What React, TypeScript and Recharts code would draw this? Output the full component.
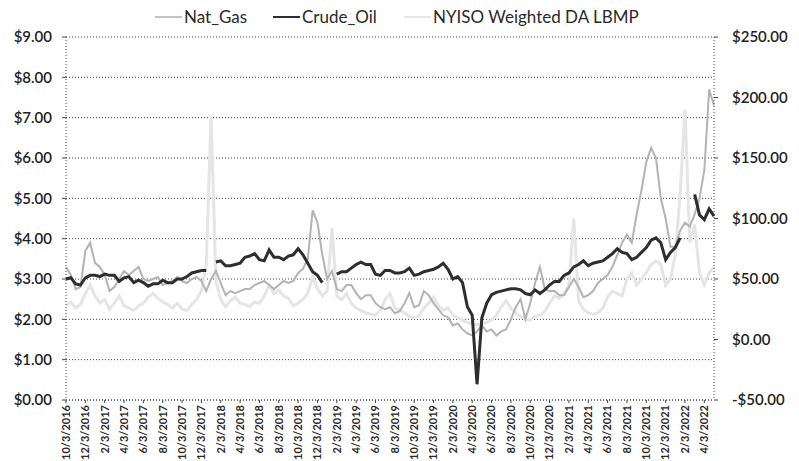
import { LineChart, Line, XAxis, YAxis, CartesianGrid, Legend } from "recharts"

// semi-monthly readings (3rd and 18th of each month)
const dates = [
  "10/3/2016", "10/18/2016", "11/3/2016", "11/18/2016", "12/3/2016", "12/18/2016",
  "1/3/2017", "1/18/2017", "2/3/2017", "2/18/2017", "3/3/2017", "3/18/2017",
  "4/3/2017", "4/18/2017", "5/3/2017", "5/18/2017", "6/3/2017", "6/18/2017",
  "7/3/2017", "7/18/2017", "8/3/2017", "8/18/2017", "9/3/2017", "9/18/2017",
  "10/3/2017", "10/18/2017", "11/3/2017", "11/18/2017", "12/3/2017", "12/18/2017",
  "1/3/2018", "1/18/2018", "2/3/2018", "2/18/2018", "3/3/2018", "3/18/2018",
  "4/3/2018", "4/18/2018", "5/3/2018", "5/18/2018", "6/3/2018", "6/18/2018",
  "7/3/2018", "7/18/2018", "8/3/2018", "8/18/2018", "9/3/2018", "9/18/2018",
  "10/3/2018", "10/18/2018", "11/3/2018", "11/18/2018", "12/3/2018", "12/18/2018",
  "1/3/2019", "1/18/2019", "2/3/2019", "2/18/2019", "3/3/2019", "3/18/2019",
  "4/3/2019", "4/18/2019", "5/3/2019", "5/18/2019", "6/3/2019", "6/18/2019",
  "7/3/2019", "7/18/2019", "8/3/2019", "8/18/2019", "9/3/2019", "9/18/2019",
  "10/3/2019", "10/18/2019", "11/3/2019", "11/18/2019", "12/3/2019", "12/18/2019",
  "1/3/2020", "1/18/2020", "2/3/2020", "2/18/2020", "3/3/2020", "3/18/2020",
  "4/3/2020", "4/18/2020", "5/3/2020", "5/18/2020", "6/3/2020", "6/18/2020",
  "7/3/2020", "7/18/2020", "8/3/2020", "8/18/2020", "9/3/2020", "9/18/2020",
  "10/3/2020", "10/18/2020", "11/3/2020", "11/18/2020", "12/3/2020", "12/18/2020",
  "1/3/2021", "1/18/2021", "2/3/2021", "2/18/2021", "3/3/2021", "3/18/2021",
  "4/3/2021", "4/18/2021", "5/3/2021", "5/18/2021", "6/3/2021", "6/18/2021",
  "7/3/2021", "7/18/2021", "8/3/2021", "8/18/2021", "9/3/2021", "9/18/2021",
  "10/3/2021", "10/18/2021", "11/3/2021", "11/18/2021", "12/3/2021", "12/18/2021",
  "1/3/2022", "1/18/2022", "2/3/2022", "2/18/2022", "3/3/2022", "3/18/2022",
  "4/3/2022", "4/18/2022", "5/3/2022",
]

const natGas = [
  3.3, 3.1, 2.75, 2.8, 3.7, 3.9,
  3.4, 3.3, 3.1, 2.7, 2.8, 3.0,
  3.2, 3.1, 3.2, 3.3, 3.0, 2.95,
  3.0, 3.05, 2.85, 2.9, 2.95, 3.05,
  2.95, 2.9, 3.0, 3.05, 2.95, 2.7,
  3.0, 3.2, 2.9, 2.6, 2.7, 2.65,
  2.7, 2.75, 2.75, 2.85, 2.9, 2.95,
  2.85, 2.75, 2.85, 2.95, 2.9, 2.95,
  3.15, 3.25, 3.5, 4.7, 4.4, 3.6,
  3.0, 3.2, 2.75, 2.7, 2.85, 2.85,
  2.65, 2.5, 2.6, 2.6, 2.4, 2.3,
  2.25, 2.3, 2.15, 2.2, 2.4, 2.65,
  2.3, 2.35, 2.7, 2.6, 2.4, 2.25,
  2.1, 2.05, 1.85, 1.9, 1.75, 1.65,
  1.6, 1.7, 1.85, 1.7, 1.75, 1.6,
  1.7, 1.75, 2.0, 2.3, 2.5, 2.0,
  2.4, 2.9, 3.3, 2.75, 2.7, 2.7,
  2.6, 2.6, 2.8, 3.0, 2.8, 2.55,
  2.6, 2.7, 2.9, 3.0, 3.1, 3.3,
  3.6, 3.9, 4.1, 3.9, 4.6, 5.2,
  5.9, 6.25, 6.0, 5.0, 4.5, 3.8,
  3.8, 4.2, 4.4, 4.3, 4.6, 5.0,
  5.7, 7.7, 7.3,
]

const crudeOil = [
  50, 51, 46, 45, 51, 53,
  53, 52, 54, 53, 53, 48,
  51, 52, 47, 49, 47, 44,
  46, 46, 49, 47, 47, 50,
  50, 52, 55, 56, 57, 57,
  null, 64, 65, 61, 61, 62,
  63, 68, 69, 71, 66, 65,
  74, 68, 68, 66, 69, 70,
  75, 70, 63, 56, 53, 47,
  null, null, 54, 56, 56, 59,
  62, 64, 62, 62, 54, 53,
  57, 57, 55, 55, 56, 59,
  53, 54, 56, 57, 58, 60,
  63, 58, 50, 52, 47, 27,
  20, -37, 18, 30, 37, 39,
  40, 41, 42, 42, 41, 38,
  37, 41, 38, 41, 45, 48,
  48, 53, 55, 60, 62, 65,
  61, 63, 64, 65, 68, 71,
  75, 72, 71, 66, 68, 72,
  76, 82, 84, 80, 66, 72,
  76, 84, null, null, 120, 103,
  99, 108, 102,
]

const lbmp = [
  28, 31, 26, 29, 38, 45,
  36, 30, 33, 25, 30, 36,
  28, 26, 24, 28, 30, 35,
  38, 34, 31, 29, 26, 30,
  25, 24, 29, 33, 40, 62,
  185, 48, 33, 27, 32, 35,
  30, 29, 27, 31, 30, 36,
  45, 38, 41, 36, 34, 28,
  30, 33, 38, 52, 42, 36,
  40, 92, 36, 33, 38, 30,
  26, 24, 22, 21, 20, 24,
  33, 38, 26, 24, 22, 19,
  18, 20, 26, 30, 35, 28,
  24, 26, 20, 18, 16, 14,
  13, 12, 13, 14, 16, 20,
  27, 32, 26, 22, 19, 17,
  16, 19, 20, 23, 30, 36,
  34, 38, 45, 100, 32, 25,
  22, 21, 22, 26, 35, 40,
  38, 36, 50, 55, 45, 50,
  55, 62, 65, 62, 45, 50,
  70, 120, 190, 80, 95, 55,
  45, 55, 60,
]

const leftTicks = [0, 1, 2, 3, 4, 5, 6, 7, 8, 9]
const rightTicks = [-50, 0, 50, 100, 150, 200, 250]

const font = "Lato, 'Liberation Sans', sans-serif"
const axisColor = "#444"

const legendItems = [
  { name: "Nat_Gas", color: "#c4c4c4", left: 155 },
  { name: "Crude_Oil", color: "#2e2e2e", left: 273 },
  { name: "NYISO Weighted DA LBMP", color: "#e6e6e6", left: 404 },
]

const data = dates.map((date, i) => ({
  date,
  natGas: natGas[i],
  crudeOil: crudeOil[i],
  lbmp: lbmp[i],
}))

const money = (v: number) => (v < 0 ? `-$${Math.abs(v).toFixed(2)}` : `$${v.toFixed(2)}`)

const DateTick = ({ x, y, payload }: any) => (
  <text
    x={x}
    y={y}
    transform={`rotate(-90, ${x}, ${y})`}
    textAnchor="end"
    dy="0.35em"
    fontSize={11}
    fontWeight={700}
    fill="#2a2a2a"
    fontFamily={font}
  >
    {payload.value}
  </text>
)

const ChartLegend = () => (
  <div style={{ position: "relative", width: 799, height: 30, fontFamily: font, fontSize: 17, color: "#2a2a2a" }}>
    {legendItems.map((item) => (
      <div
        key={item.name}
        style={{ position: "absolute", left: item.left, top: 6, display: "flex", alignItems: "center", whiteSpace: "nowrap" }}
      >
        <span style={{ display: "inline-block", width: 27, height: 2, background: item.color, marginRight: 2 }} />
        <span>{item.name}</span>
      </div>
    ))}
  </div>
)

export default function App() {
  const tickStyle = { fontSize: 15, fontWeight: 600, fill: "#222", fontFamily: font }
  return (
    <div style={{ position: "absolute", left: 0, top: 0, width: 799, height: 461, background: "#fff" }}>
      <LineChart width={799} height={461} data={data} margin={{ top: 7, right: 0, bottom: 0, left: 0 }}>
        <CartesianGrid yAxisId="left" vertical={false} stroke={axisColor} strokeDasharray="1 2" />
        <XAxis
          dataKey="date"
          interval={3}
          height={61}
          tick={<DateTick />}
          tickSize={3}
          axisLine={{ stroke: axisColor, strokeDasharray: "1 2" }}
          tickLine={{ stroke: axisColor }}
        />
        <YAxis
          yAxisId="left"
          domain={[0, 9]}
          ticks={leftTicks}
          width={66}
          tickFormatter={money}
          tick={tickStyle}
          tickSize={4}
          tickMargin={10}
          axisLine={{ stroke: axisColor, strokeDasharray: "1 2" }}
          tickLine={{ stroke: axisColor }}
        />
        <YAxis
          yAxisId="right"
          orientation="right"
          domain={[-50, 250]}
          ticks={rightTicks}
          width={85}
          tickFormatter={money}
          tick={tickStyle}
          tickSize={4}
          tickMargin={14}
          axisLine={{ stroke: axisColor, strokeDasharray: "1 2" }}
          tickLine={{ stroke: axisColor }}
        />
        <Legend verticalAlign="top" height={30} content={<ChartLegend />} wrapperStyle={{ left: 0, top: 0, width: 799 }} />
        <Line
          yAxisId="right"
          dataKey="lbmp"
          name="NYISO Weighted DA LBMP"
          stroke="#e5e5e5"
          strokeWidth={3}
          dot={false}
          isAnimationActive={false}
        />
        <Line
          yAxisId="left"
          dataKey="natGas"
          name="Nat_Gas"
          stroke="#b3b3b3"
          strokeWidth={2}
          dot={false}
          isAnimationActive={false}
        />
        <Line
          yAxisId="right"
          dataKey="crudeOil"
          name="Crude_Oil"
          stroke="#2e2e2e"
          strokeWidth={3}
          dot={false}
          isAnimationActive={false}
        />
      </LineChart>
    </div>
  )
}
